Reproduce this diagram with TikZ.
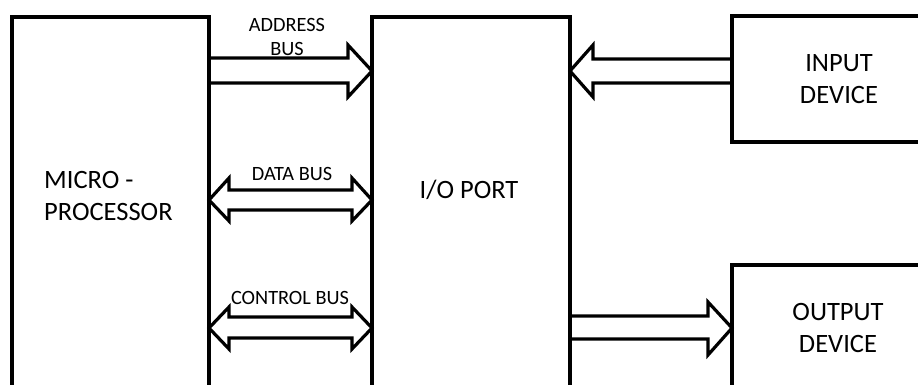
\documentclass[tikz,border=0pt]{standalone}
\usepackage{fontspec}
\setmainfont{Carlito}
\begin{document}
\begin{tikzpicture}[x=1pt,y=-1pt,
  blk/.style={draw=black,line width=3.2pt,fill=none,inner sep=0pt,outer sep=0pt},
  bus/.style={draw=black,line width=3.2pt,line join=miter,fill=none},
  big/.style={font=\fontsize{26.5}{32}\selectfont,inner sep=0pt,align=center},
  small/.style={font=\fontsize{20.3}{23.5}\selectfont,inner sep=0pt,align=center}]
\clip (0,0) rectangle (918,385);
\fill[white] (0,0) rectangle (918,385);
% boxes
\node[blk,minimum width=197pt,minimum height=403pt] (mp) at (110.5,218.5) {};
\node[blk,minimum width=198pt,minimum height=403pt] (io) at (471,218.5) {};
\node[blk,minimum width=208pt,minimum height=126pt] (in) at (836,79) {};
\node[blk,minimum width=208pt,minimum height=155pt] (out) at (836,342.5) {};
% texts
\node[big,align=left,anchor=west] (mptxt) at (44,196) {MICRO -\\PROCESSOR};
\node[big] (iotxt) at (469,190) {I/O PORT};
\node[big] (intxt) at (839,79) {INPUT\\DEVICE};
\node[big] (outtxt) at (838,328) {OUTPUT\\DEVICE};
\node[small] (abtxt) at (287,37) {ADDRESS\\BUS};
\node[small] (dbtxt) at (292,174) {DATA BUS};
\node[small] (cbtxt) at (290,298) {CONTROL BUS};
% address bus: mp -> io
\draw[bus] (mp.east |- 0,58) -- (348,58) -- (348,45) -- (io.west |- 0,71)
  -- (348,97) -- (348,83) -- (mp.east |- 0,83);
% input device -> io
\draw[bus] (in.west |- 0,59) -- (593,59) -- (593,45) -- (io.east |- 0,71)
  -- (593,97) -- (593,83) -- (in.west |- 0,83);
% data bus: mp <-> io
\draw[bus] (mp.east |- 0,200) -- (229,178) -- (229,190) -- (352,190) -- (352,178)
  -- (io.west |- 0,200) -- (352,221) -- (352,210) -- (229,210) -- (229,221) -- cycle;
% control bus: mp <-> io
\draw[bus] (mp.east |- 0,328) -- (229,307) -- (229,317) -- (352,317) -- (352,307)
  -- (io.west |- 0,328) -- (352,349) -- (352,338) -- (229,338) -- (229,349) -- cycle;
% io -> output device
\draw[bus] (io.east |- 0,316) -- (708,316) -- (708,302) -- (out.west |- 0,328)
  -- (708,355) -- (708,339) -- (io.east |- 0,339);
\end{tikzpicture}
\end{document}
